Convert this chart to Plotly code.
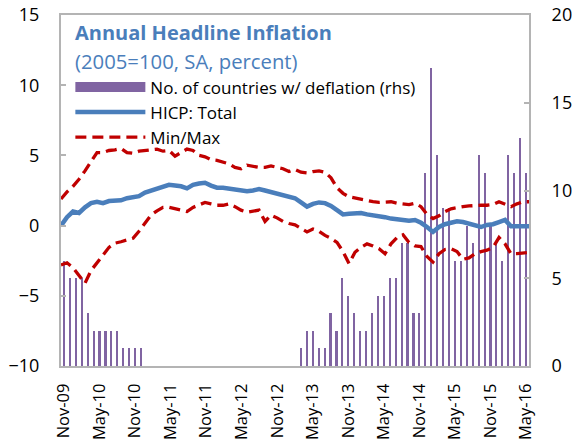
import plotly.graph_objects as go
import pandas as pd

months = pd.date_range("2009-11-01", periods=79, freq="MS").strftime("%b-%y").tolist()
tick_labels = months[::6]

deflation_countries = [6, 5, 5, 5, 3, 2, 2, 2, 2, 2, 1, 1, 1, 1,
                       0, 0, 0, 0, 0, 0, 0, 0, 0, 0, 0, 0, 0, 0, 0, 0, 0, 0, 0, 0, 0, 0, 0, 0, 0, 0,
                       1, 2, 2, 1, 1, 3, 2, 5, 4, 3, 2, 2, 3, 4, 4, 5, 5, 7, 7, 3, 3,
                       11, 17, 12, 9, 9, 6, 6, 8, 7, 12, 11, 8, 7, 6, 12, 11, 13, 11]

hicp_total = [0.0, 0.6, 1.0, 0.9, 1.3, 1.6, 1.7, 1.6, 1.75, 1.75, 1.8, 1.95, 2.0, 2.1,
              2.35, 2.5, 2.6, 2.75, 2.9, 2.85, 2.8, 2.65, 2.9, 3.0, 3.05, 2.85, 2.7, 2.7,
              2.65, 2.6, 2.5, 2.45, 2.5, 2.6, 2.5, 2.4, 2.25, 2.2, 2.1, 1.95, 1.65, 1.35,
              1.55, 1.65, 1.6, 1.4, 1.1, 0.8, 0.85, 0.9, 0.9, 0.8, 0.75, 0.7, 0.6, 0.5,
              0.45, 0.4, 0.35, 0.4, 0.2, -0.1, -0.45, -0.1, 0.1, 0.2, 0.3, 0.25, 0.15,
              0.0, -0.1, 0.05, 0.1, 0.25, 0.4, -0.05, -0.05, -0.05, -0.05]

hicp_max = [1.9, 2.4, 2.8, 3.3, 3.9, 4.6, 5.2, 5.2, 5.35, 5.4, 5.5, 5.2, 5.15, 5.3,
            5.35, 5.45, 5.45, 5.3, 5.35, 4.95, 5.2, 5.45, 5.35, 5.0, 4.9, 4.7, 4.65, 4.5,
            4.4, 4.15, 4.05, 4.3, 4.2, 4.15, 4.15, 4.25, 4.15, 4.05, 3.85, 4.0, 3.8, 3.75,
            3.85, 3.9, 3.8, 3.4, 2.7, 2.3, 2.05, 1.95, 1.9, 1.8, 1.7, 1.65, 1.7, 1.7,
            1.6, 1.55, 1.5, 1.6, 1.35, 0.8, 0.5, 0.7, 1.0, 1.2, 1.3, 1.35, 1.4,
            1.45, 1.45, 1.45, 1.5, 1.7, 1.5, 1.35, 1.55, 1.7, 1.7]

hicp_min = [-2.8, -2.65, -3.0, -3.6, -4.1, -3.2, -2.6, -2.1, -1.55, -1.25, -1.15, -1.05, -0.9, -0.4,
            0.2, 0.75, 1.05, 1.3, 1.3, 1.2, 1.1, 1.0, 1.3, 1.5, 1.65, 1.55, 1.45, 1.45,
            1.55, 1.35, 1.1, 0.95, 1.05, 1.1, 0.3, 0.75, 0.55, 0.3, 0.15, 0.05, -0.2, -0.45,
            -0.25, -0.4, -0.7, -0.9, -1.2, -1.85, -2.7, -1.9, -1.55, -1.3, -1.45, -1.65, -2.0, -1.3,
            -0.85, -0.65, -1.2, -1.45, -1.5, -2.2, -2.6, -2.0, -1.7, -1.65, -1.85, -2.4, -2.3,
            -2.0, -1.85, -1.75, -1.55, -0.85, -1.3, -2.0, -2.0, -1.95, -1.9]

GREY = "#b4b4b4"
FONT = "Open Sans"
PURPLE = "#8064A2"
BLUE = "#4A7EBB"
RED = "#C00000"
DASH = "11px,6px"

fig = go.Figure()
fig.add_trace(go.Bar(x=months, y=deflation_countries, xaxis="x", yaxis="y",
                     marker=dict(color=PURPLE, line_width=0), width=0.36,
                     name="No. of countries w/ deflation (rhs)", showlegend=False))
fig.add_trace(go.Scatter(x=[None], y=[None], mode="lines", xaxis="x2", yaxis="y2",
                         line=dict(color=PURPLE, width=11),
                         name="No. of countries w/ deflation (rhs)"))
fig.add_trace(go.Scatter(x=months, y=hicp_total, mode="lines", xaxis="x2", yaxis="y2",
                         line=dict(color=BLUE, width=4.5), name="HICP: Total"))
fig.add_trace(go.Scatter(x=months, y=hicp_max, mode="lines", xaxis="x2", yaxis="y2",
                         line=dict(color=RED, width=3.3, dash=DASH),
                         name="Min/Max", legendgroup="mm"))
fig.add_trace(go.Scatter(x=months, y=hicp_min, mode="lines", xaxis="x2", yaxis="y2",
                         line=dict(color=RED, width=3.3, dash=DASH),
                         name="Min/Max", legendgroup="mm", showlegend=False))

fig.update_layout(
    width=575, height=445,
    margin=dict(l=61, r=46, t=15, b=79, autoexpand=False),
    paper_bgcolor="white", plot_bgcolor="white",
    font=dict(family=FONT, size=17, color="black"),
    bargap=0,
    xaxis=dict(type="category", range=[-0.5, 78.5], tickvals=tick_labels, ticktext=tick_labels,
               tickangle=-90, ticks="", showline=True, mirror=True, linecolor=GREY, linewidth=2,
               showgrid=False, tickfont=dict(size=16.5), ticklabelstandoff=9, automargin=False),
    xaxis2=dict(type="category", overlaying="x", anchor="y2", range=[0, 78], visible=False),
    xaxis3=dict(type="linear", overlaying="x", anchor="free", position=0.4, range=[-0.5, 78.5],
                tickvals=[-0.5 + 6 * k for k in range(14)], ticks="inside", ticklen=5,
                tickcolor=GREY, tickwidth=2, showline=True, linecolor=GREY, linewidth=2,
                showticklabels=False, showgrid=False, zeroline=False, automargin=False),
    yaxis=dict(side="right", range=[0, 20], tickvals=[0, 5, 10, 15, 20], ticks="inside",
               ticklen=5, tickcolor=GREY, tickwidth=2, showline=True, linecolor=GREY, linewidth=2,
               showgrid=False, zeroline=False, tickfont=dict(size=18), ticklabelstandoff=17,
               automargin=False),
    yaxis2=dict(side="left", overlaying="y", range=[-10, 15], tickvals=[-10, -5, 0, 5, 10, 15],
                ticks="inside", ticklen=5, tickcolor=GREY, tickwidth=2, showline=True,
                linecolor=GREY, linewidth=2, showgrid=False, zeroline=False,
                tickfont=dict(size=18), ticklabelstandoff=16, automargin=False),
    legend=dict(x=0.02, y=0.845, xanchor="left", yanchor="top", bgcolor="rgba(0,0,0,0)",
                font=dict(size=17), itemwidth=70, tracegroupgap=0),
    showlegend=True,
    annotations=[
        dict(text="<b>Annual Headline Inflation</b>", xref="paper", yref="paper",
             x=0.026, y=0.949, xanchor="left", yanchor="middle", showarrow=False,
             font=dict(size=20, color=BLUE)),
        dict(text="(2005=100, SA, percent)", xref="paper", yref="paper",
             x=0.026, y=0.869, xanchor="left", yanchor="middle", showarrow=False,
             font=dict(size=20.3, color=BLUE)),
    ],
)

fig.write_html("out.html", config={"displayModeBar": False},
               post_script="document.body.style.margin='0px';document.body.style.overflow='hidden';")
